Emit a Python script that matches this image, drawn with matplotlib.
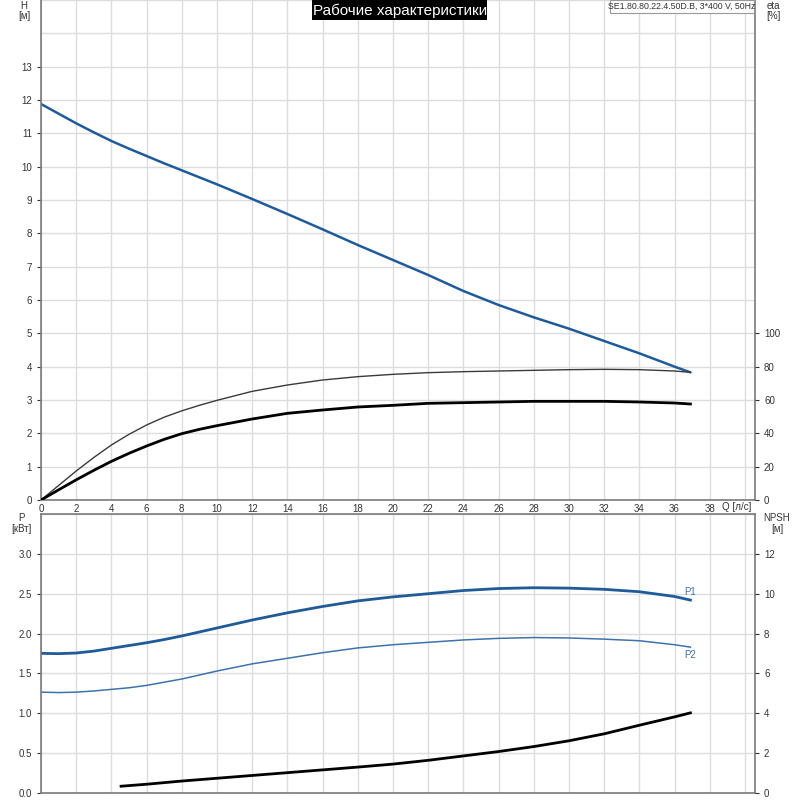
import numpy as np
import matplotlib
matplotlib.use("Agg")
import matplotlib.pyplot as plt
from matplotlib.patches import Rectangle

plt.rcParams['font.family'] = ['Liberation Sans', 'DejaVu Sans']

# flow points (l/s)
Q = [0, 1, 2, 3, 4, 5, 6, 7, 8, 9, 10, 12, 14, 16, 18, 20, 22, 24, 26, 28, 30, 32, 34,
     36, 36.9]
H = [11.88, 11.59, 11.3, 11.03, 10.77, 10.54, 10.32, 10.10, 9.89, 9.68, 9.47, 9.03,
     8.58, 8.12, 7.65, 7.2, 6.75, 6.27, 5.85, 5.48, 5.14, 4.77, 4.4, 4.0, 3.83]
ETA_PUMP = [0, 8.7, 17.4, 25.5, 33, 39.4, 45, 49.7, 53.5, 56.8, 59.8, 65.2, 69, 72, 74,
            75.4, 76.4, 77, 77.4, 77.8, 78.2, 78.4, 78.2, 77.4, 76.6]
ETA_TOTAL = [0, 6.1, 12.1, 17.8, 23.2, 28.0, 32.4, 36.4, 39.8, 42.4, 44.6, 48.6, 52,
             54, 55.8, 56.8, 58, 58.4, 58.8, 59.2, 59.2, 59.2, 58.8, 58.2, 57.6]
P1 = [1.752, 1.748, 1.756, 1.78, 1.815, 1.85, 1.885, 1.925, 1.97, 2.02, 2.07, 2.17,
      2.26, 2.34, 2.41, 2.46, 2.50, 2.54, 2.565, 2.575, 2.57, 2.555, 2.525, 2.465, 2.42]
P2 = [1.265, 1.26, 1.265, 1.28, 1.30, 1.32, 1.35, 1.39, 1.43, 1.48, 1.53, 1.62, 1.69,
      1.76, 1.82, 1.86, 1.89, 1.92, 1.94, 1.95, 1.945, 1.93, 1.91, 1.86, 1.83]
Q_NPSH = [4.55, 6, 8, 10, 12, 14, 16, 18, 20, 22, 24, 26, 28, 30, 32, 34, 36, 36.9]
NPSH = [0.34, 0.44, 0.60, 0.74, 0.88, 1.02, 1.16, 1.30, 1.45, 1.64, 1.86, 2.08, 2.33,
        2.62, 2.97, 3.40, 3.82, 4.02]

BLUE = "#1f5b99"
BLUE2 = "#3f72aa"
GRID = "#dcdcdc"
SPINE = "#7a7a7a"
TXT = "#333333"
W = 800.0


def style(ax, xlabels):
    ax.set_xlim(0, 40.57)
    if xlabels:
        ax.set_xticks(np.arange(0, 39, 2))
        ax.set_xticklabels([str(v) for v in range(0, 39, 2)])
        ax.set_xticks([40], minor=True)
    else:
        ax.set_xticks([])
        ax.set_xticks(np.arange(0, 41, 2), minor=True)
    ax.grid(True, which="both", color=GRID, lw=1.0)
    ax.tick_params(which="minor", length=0)
    ax.tick_params(axis="x", which="major", length=0, labelsize=7, colors=TXT, pad=3)
    ax.tick_params(axis="y", which="major", length=3, labelsize=7, colors=TXT,
                   direction="out", width=0.8)
    for s in ax.spines.values():
        s.set_color(SPINE)
        s.set_linewidth(1.2)
    ax.set_axisbelow(True)


fig = plt.figure(figsize=(8, 8), dpi=100)

# ---- upper panel: H and eta
ax = fig.add_axes([41 / W, 300 / W, 714 / W, 500 / W])
style(ax, True)
ax.set_ylim(0, 15)
ax.set_yticks(np.arange(0, 14))
ax.set_yticks([14, 15], minor=True)
ax.spines["top"].set_visible(False)
ax.plot(Q, H, color=BLUE, lw=1.8, solid_capstyle="round")
ax.text(40.35, -0.22, "Q [л/с]", ha="right", va="center", fontsize=7, color=TXT)

axe = ax.twinx()
axe.set_ylim(0, 300)
axe.set_yticks(np.arange(0, 101, 20))
axe.tick_params(axis="y", length=3, labelsize=7, colors=TXT, direction="out", width=0.8)
for s in axe.spines.values():
    s.set_visible(False)
axe.plot(Q, ETA_PUMP, color="#3a3a3a", lw=1.0)
axe.plot(Q, ETA_TOTAL, color="black", lw=2.0)

# ---- lower panel: P1, P2 and NPSH
axp = fig.add_axes([41 / W, 7 / W, 714 / W, 279 / W])
style(axp, False)
axp.set_ylim(0, 3.5)
axp.set_yticks(np.arange(0, 3.01, 0.5))
axp.set_yticks([3.5], minor=True)
axp.set_yticklabels(["%.1f" % v for v in np.arange(0, 3.01, 0.5)])
axp.plot(Q, P1, color=BLUE, lw=2.0)
axp.plot(Q, P2, color=BLUE2, lw=1.1)
axp.text(Q[-1], P1[-1] + 0.04, "P1", ha="center", va="bottom", fontsize=7, color=BLUE2)
axp.text(Q[-1], P2[-1] - 0.04, "P2", ha="center", va="top", fontsize=7, color=BLUE2)

axn = axp.twinx()
axn.set_ylim(0, 14)
axn.set_yticks(np.arange(0, 13, 2))
axn.tick_params(axis="y", length=3, labelsize=7, colors=TXT, direction="out", width=0.8)
for s in axn.spines.values():
    s.set_visible(False)
axn.plot(Q_NPSH, NPSH, color="black", lw=2.0)

# ---- axis captions
for x, y, t in [(24, 6, "H"), (24, 16, "[м]"), (773, 6, "eta"), (773, 16, "[%]"),
                (21, 518, "P"), (21, 529, "[кВт]"), (777, 518, "NPSH"), (777, 529, "[м]")]:
    fig.text(x / W, 1 - y / W, t, ha="center", va="center", fontsize=7, color=TXT)

# ---- title and model boxes
fig.add_artist(Rectangle((312 / W, 1 - 20 / W), 175 / W, 20 / W, transform=fig.transFigure,
                         facecolor="black", edgecolor="none"))
fig.text(400 / W, 1 - 10.5 / W, "Рабочие характеристики", ha="center", va="center",
         fontsize=11, color="white")
fig.add_artist(Rectangle((610 / W, 1 - 13 / W), 144 / W, 13 / W, transform=fig.transFigure,
                         facecolor="white", edgecolor="#999999", lw=0.8))
fig.text(682 / W, 1 - 6.5 / W, "SE1.80.80.22.4.50D.B, 3*400 V, 50Hz", ha="center",
         va="center", fontsize=6.3, color=TXT)

fig.savefig("out.png", dpi=100)
